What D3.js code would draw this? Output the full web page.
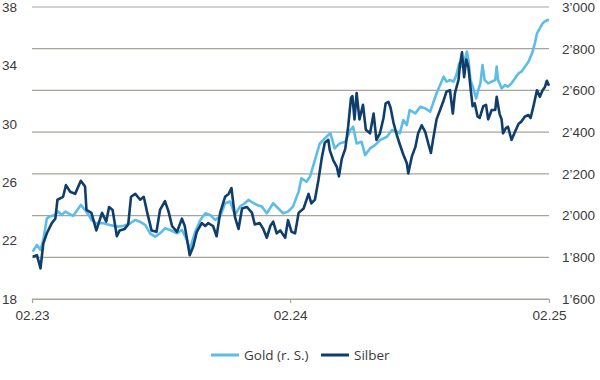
<!DOCTYPE html>
<html>
<head>
<meta charset="utf-8">
<script src="https://cdn.jsdelivr.net/npm/d3@7"></script>
<style>
  html, body { margin: 0; padding: 0; background: #fff; }
  svg { display: block; font-family: "Open Sans", "Noto Sans", sans-serif; }
  .tick text { fill: #3a3a3a; }
</style>
</head>
<body>
<svg id="chart" width="600" height="380"></svg>
<script>
// ---------- data ----------
const seriesNames = ["Gold (r. S.)", "Silber"];
const seriesColors = ["#5cbde9", "#0f3e6d"];

const xTickLabels = ["2023-02-01", "2024-02-01", "2025-02-01"];
const leftTicks = [18, 22, 26, 30, 34, 38];
const rightTicks = [1600, 1800, 2000, 2200, 2400, 2600, 2800, 3000];

const goldDates = [
"2023-02-02","2023-02-08","2023-02-13","2023-02-17","2023-02-22","2023-02-26",
"2023-03-06","2023-03-10","2023-03-15","2023-03-20","2023-03-31",
"2023-04-11","2023-04-17","2023-04-22","2023-04-26",
"2023-05-03","2023-05-13","2023-05-22",
"2023-06-01","2023-06-10","2023-06-20","2023-06-27",
"2023-07-04","2023-07-11","2023-07-18","2023-07-25",
"2023-08-01","2023-08-08","2023-08-15","2023-08-25",
"2023-09-01","2023-09-08","2023-09-12","2023-09-19","2023-09-27",
"2023-10-04","2023-10-11","2023-10-18","2023-10-25",
"2023-11-01","2023-11-08","2023-11-15","2023-11-22","2023-11-29",
"2023-12-04","2023-12-09","2023-12-16","2023-12-23","2023-12-30",
"2024-01-08","2024-01-15","2024-01-22","2024-01-29",
"2024-02-05","2024-02-13","2024-02-17","2024-02-24","2024-02-29",
"2024-03-07","2024-03-14","2024-03-21","2024-03-26","2024-03-29",
"2024-04-04","2024-04-11","2024-04-19","2024-04-26","2024-04-30",
"2024-05-05","2024-05-12","2024-05-17","2024-05-24","2024-05-31",
"2024-06-07","2024-06-17","2024-06-24",
"2024-07-01","2024-07-05","2024-07-10","2024-07-15","2024-07-19","2024-07-27",
"2024-08-03","2024-08-10","2024-08-17","2024-08-21","2024-08-26","2024-08-31",
"2024-09-05","2024-09-09","2024-09-14","2024-09-19","2024-09-23","2024-09-27",
"2024-10-01","2024-10-04","2024-10-08","2024-10-10","2024-10-13","2024-10-17","2024-10-21","2024-10-24","2024-10-27","2024-10-30",
"2024-11-02","2024-11-07","2024-11-12","2024-11-17","2024-11-19","2024-11-21","2024-11-26",
"2024-12-01","2024-12-05","2024-12-10","2024-12-15","2024-12-20","2024-12-24","2024-12-29",
"2025-01-03","2025-01-08","2025-01-12","2025-01-15","2025-01-19","2025-01-23","2025-01-26","2025-01-30",
"2025-02-01"];
const goldValues = [
1827,1859,1835,1883,1987,1995,
2003,2019,2003,2019,1998,
2051,2027,2003,1979,
1963,1963,1955,
1947,1950,1963,1979,
1970,1955,1915,1899,
1915,1939,1931,1915,
1931,1883,1835,1915,1979,
2011,2003,1979,1995,
2059,2067,2003,2043,2059,
2075,2065,2051,2043,2011,
2059,2035,2011,2019,
2043,2115,2179,2162,2186,
2266,2346,2370,2386,2394,
2322,2346,2354,2410,2426,
2346,2354,2290,2322,2338,
2362,2378,2410,
2402,2394,2458,2434,2506,2490,
2522,2514,2498,2538,2586,2626,
2666,2642,2650,2642,2674,2730,
2714,2738,2786,2746,2650,2610,2562,2602,2634,2722,
2650,2634,2642,2650,2714,2650,2610,
2626,2618,2634,2658,2682,2690,2714,
2738,2778,2826,2874,2898,2922,2930,2938,
2935];

const silverDates = [
"2023-02-02","2023-02-08","2023-02-13","2023-02-17","2023-02-22",
"2023-03-01","2023-03-06","2023-03-09","2023-03-17","2023-03-21","2023-03-27",
"2023-04-03","2023-04-11","2023-04-17","2023-04-19","2023-04-26",
"2023-05-03","2023-05-11","2023-05-17","2023-05-21","2023-05-26",
"2023-06-01","2023-06-05","2023-06-12","2023-06-17","2023-06-21","2023-06-27",
"2023-07-04","2023-07-09","2023-07-14","2023-07-20","2023-07-27",
"2023-08-01","2023-08-08","2023-08-13","2023-08-18","2023-08-25",
"2023-09-01","2023-09-05","2023-09-12","2023-09-17","2023-09-22","2023-09-29",
"2023-10-04","2023-10-08","2023-10-15","2023-10-20","2023-10-25",
"2023-11-01","2023-11-06","2023-11-10","2023-11-15","2023-11-20","2023-11-25",
"2023-12-02","2023-12-09","2023-12-13","2023-12-20","2023-12-25","2023-12-30",
"2024-01-04","2024-01-08","2024-01-13","2024-01-18","2024-01-25","2024-01-29",
"2024-02-03","2024-02-08","2024-02-13","2024-02-20","2024-02-27",
"2024-03-02","2024-03-07","2024-03-12","2024-03-17","2024-03-21","2024-03-26","2024-03-28",
"2024-04-02","2024-04-07","2024-04-10","2024-04-14","2024-04-19","2024-04-23","2024-04-27","2024-04-29",
"2024-05-02","2024-05-05","2024-05-09","2024-05-14","2024-05-18","2024-05-24","2024-05-29",
"2024-06-02","2024-06-07","2024-06-12","2024-06-15","2024-06-19","2024-06-22","2024-06-26",
"2024-07-01","2024-07-05","2024-07-10","2024-07-15","2024-07-17","2024-07-22","2024-07-27","2024-07-31",
"2024-08-05","2024-08-10","2024-08-14","2024-08-18","2024-08-21","2024-08-26","2024-08-31",
"2024-09-05","2024-09-09","2024-09-14","2024-09-18","2024-09-21","2024-09-26","2024-09-28",
"2024-10-01","2024-10-04","2024-10-07","2024-10-10","2024-10-13","2024-10-16","2024-10-19","2024-10-23","2024-10-26","2024-10-31",
"2024-11-04","2024-11-07","2024-11-12","2024-11-17","2024-11-19","2024-11-23","2024-11-26","2024-11-28",
"2024-12-02","2024-12-05","2024-12-10","2024-12-15","2024-12-20","2024-12-24","2024-12-29",
"2025-01-03","2025-01-06","2025-01-10","2025-01-15","2025-01-19","2025-01-23","2025-01-26","2025-01-29",
"2025-02-01"];
const silverValues = [
20.9,21.0,20.1,21.8,22.5,
23.2,23.5,24.8,25.0,25.8,25.35,
25.2,26.1,25.7,24.1,23.9,
22.7,23.9,23.3,24.3,24.1,
22.3,22.7,22.8,23.1,25.0,25.2,
24.8,25.0,23.9,22.7,22.6,
24.1,24.7,24.0,23.0,22.6,
23.5,23.0,21.0,21.6,22.6,23.2,
23.0,23.2,23.0,22.3,23.9,
25.0,25.2,25.6,23.6,22.8,24.2,
24.3,23.9,23.1,23.2,22.8,22.2,
23.0,23.3,22.5,22.7,22.2,23.4,
22.6,22.5,23.9,24.2,25.2,
24.55,24.8,26.15,27.75,28.7,28.9,28.2,
27.5,27.05,26.4,27.6,28.3,29.8,31.75,31.9,
30.3,32.1,30.3,31.3,29.6,29.35,30.7,
28.9,29.35,30.4,31.4,31.5,31.1,30.1,
29.2,28.6,27.9,27.3,26.6,27.75,28.4,29.35,
29.9,29.45,28.7,28.0,28.9,30.3,30.95,
31.6,32.2,32.3,30.7,32.1,33.0,34.0,
34.9,33.2,34.4,33.9,32.5,31.2,31.4,30.5,30.4,31.2,
31.3,30.3,30.95,30.95,31.85,30.7,30.3,29.35,
29.7,29.8,28.9,29.45,30.0,30.15,30.5,
30.6,30.4,31.2,32.3,31.85,32.3,32.5,32.95,
32.6];

// ---------- chart ----------
const parse = d3.timeParse("%Y-%m-%d");
const gold = goldDates.map((d, i) => ({ date: parse(d), value: goldValues[i] }));
const silver = silverDates.map((d, i) => ({ date: parse(d), value: silverValues[i] }));

const svg = d3.select("#chart");
const mLeft = 32, mRight = 549, mTop = 7, mBottom = 299;
const gridColor = "#a8a49c";

const x = d3.scaleTime()
  .domain([parse(xTickLabels[0]), parse(xTickLabels[2])])
  .range([mLeft, mRight]);
const yL = d3.scaleLinear().domain([18, 38]).range([mBottom, mTop]);
const yR = d3.scaleLinear().domain([1600, 3000]).range([mBottom, mTop]);

const loc = d3.formatLocale({ decimal: ".", thousands: "\u2019", grouping: [3], currency: ["", ""] });
const fmtR = loc.format(",");

// gridlines (right axis)
svg.append("g")
  .selectAll("line")
  .data(rightTicks)
  .join("line")
  .attr("x1", mLeft).attr("x2", mRight)
  .attr("y1", d => yR(d)).attr("y2", d => yR(d))
  .attr("stroke", gridColor)
  .attr("stroke-width", 1.2);

// bottom axis
const xAxis = svg.append("g")
  .attr("transform", `translate(0,${mBottom})`)
  .call(d3.axisBottom(x)
    .tickValues(xTickLabels.map(parse))
    .tickFormat(d3.timeFormat("%m.%y"))
    .tickSize(4)
    .tickSizeOuter(0)
    .tickPadding(7));
xAxis.select(".domain").attr("stroke", gridColor).attr("stroke-width", 1.2);
xAxis.selectAll(".tick line").attr("stroke", gridColor).attr("stroke-width", 1.2);
xAxis.selectAll("text").style("font-size", "13.5px");

// left axis labels
const lAxis = svg.append("g")
  .attr("transform", "translate(17,0)")
  .call(d3.axisLeft(yL).tickValues(leftTicks).tickSize(0).tickPadding(0).tickFormat(d3.format("d")));
lAxis.select(".domain").remove();
lAxis.selectAll("text").style("font-size", "13.5px");

// right axis labels
const rAxis = svg.append("g")
  .attr("transform", `translate(${mRight},0)`)
  .call(d3.axisRight(yR).tickValues(rightTicks).tickSize(0).tickPadding(13).tickFormat(fmtR));
rAxis.select(".domain").remove();
rAxis.selectAll("text").style("font-size", "13.5px");

// lines
const lineGold = d3.line().x(d => x(d.date)).y(d => yR(d.value));
const lineSilver = d3.line().x(d => x(d.date)).y(d => yL(d.value));

svg.append("path").datum(gold)
  .attr("fill", "none").attr("stroke", seriesColors[0])
  .attr("stroke-width", 2.6).attr("stroke-linejoin", "round")
  .attr("d", lineGold);
svg.append("path").datum(silver)
  .attr("fill", "none").attr("stroke", seriesColors[1])
  .attr("stroke-width", 2.6).attr("stroke-linejoin", "round")
  .attr("d", lineSilver);

// legend
const legendY = 355;
const legend = svg.append("g").attr("transform", `translate(211,${legendY})`);
const items = [
  { name: seriesNames[0], color: seriesColors[0], x: 0 },
  { name: seriesNames[1], color: seriesColors[1], x: 110 }
];
items.forEach(it => {
  const g = legend.append("g").attr("transform", `translate(${it.x},0)`);
  g.append("line").attr("x1", 0).attr("x2", 28).attr("y1", 0).attr("y2", 0)
    .attr("stroke", it.color).attr("stroke-width", 3);
  g.append("text").attr("x", 33).attr("y", 0).attr("dy", "0.35em")
    .style("font-size", "13.5px").attr("fill", "#3a3a3a").text(it.name);
});
</script>
</body>
</html>
